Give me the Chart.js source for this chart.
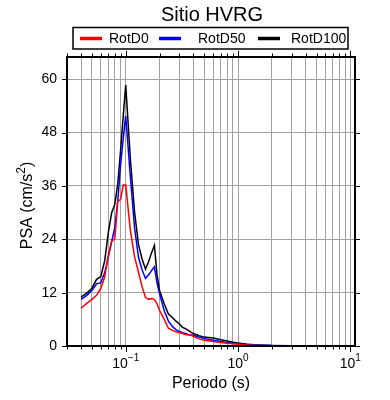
<!DOCTYPE html>
<html>
<head>
<meta charset="utf-8">
<script src="https://cdn.jsdelivr.net/npm/chart.js@4"></script>
<style>
  html, body { margin: 0; padding: 0; background: #fff; }
  #wrap { width: 390px; height: 400px; }
</style>
</head>
<body>
<div id="wrap"><canvas id="psa-chart" width="390" height="400"></canvas></div>
<script>
const chartTitle = 'Sitio HVRG';
const seriesNames = ['RotD0', 'RotD50', 'RotD100'];
const seriesColors = ['#ff0000', '#0000ff', '#000000'];

// periods (s)
const periods = [0.04, 0.045, 0.05, 0.055, 0.06, 0.065, 0.07, 0.075, 0.08, 0.085,
  0.09, 0.095, 0.1, 0.11, 0.12, 0.13, 0.14, 0.15, 0.16, 0.17,
  0.18, 0.19, 0.2, 0.22, 0.24, 0.26, 0.28, 0.3, 0.32, 0.34,
  0.36, 0.38, 0.4, 0.45, 0.5, 0.6, 0.7, 0.8, 0.9, 1.0,
  1.2, 1.5, 2, 3, 4, 5, 7.5, 10, 11];

// PSA (cm/s^2)
const rotD0 = [8.5, 9.6, 10.5, 11.4, 13.0, 15.5, 20.5, 23.6, 24.2, 32.5,
  33.0, 36.2, 36.2, 26.0, 20.0, 16.6, 13.3, 10.9, 10.5, 10.7,
  10.5, 9.5, 8.0, 6.0, 4.0, 3.5, 3.2, 3.0, 2.8, 2.6,
  2.5, 2.4, 2.2, 1.6, 1.3, 1.0, 0.8, 0.6, 0.5, 0.4,
  0.2, 0.1, 0.05, 0.03, 0.02, 0.02, 0.01, 0.01, 0.01];
const rotD50 = [10.5, 11.4, 12.5, 14.0, 14.2, 16.5, 20.0, 23.5, 26.7, 32.7,
  40.8, 46.7, 51.8, 38.0, 26.5, 19.9, 17.1, 15.2, 16.0, 17.0,
  17.8, 14.2, 11.8, 8.0, 5.6, 4.4, 3.7, 3.3, 3.0, 2.8,
  2.6, 2.5, 2.4, 2.0, 1.7, 1.3, 1.0, 0.8, 0.6, 0.5,
  0.35, 0.2, 0.1, 0.05, 0.03, 0.02, 0.01, 0.01, 0.01];
const rotD100 = [11.0, 11.9, 13.0, 15.0, 15.6, 19.2, 25.5, 30.0, 31.9, 36.5,
  44.0, 51.7, 58.7, 42.0, 30.0, 22.8, 19.5, 17.3, 19.0, 21.0,
  22.6, 16.0, 12.5, 9.5, 7.2, 6.4, 5.6, 5.0, 4.2, 3.9,
  3.5, 3.1, 2.8, 2.3, 2.0, 1.8, 1.4, 1.1, 0.85, 0.7,
  0.4, 0.25, 0.12, 0.06, 0.04, 0.03, 0.02, 0.01, 0.01];

const xMin = 0.03, xMax = 11;
const majorTicks = [0.1, 1, 10];
const majorExponents = ['\u22121', '0', '1'];
const yTicks = [0, 12, 24, 36, 48, 60];

const FONT = '"Liberation Sans", Arial, sans-serif';

// minor log positions 1..9 x 10^n inside the range
const xTicks = [];
for (let e = -2; e <= 1; e++) {
    for (let m = 1; m <= 9; m++) {
        const v = +(m * Math.pow(10, e)).toPrecision(3);
        if (v >= xMin && v <= xMax) xTicks.push(v);
    }
}

const series = [rotD0, rotD50, rotD100];

// text with a raised exponent, centred on x
function drawPower(ctx, base, exp, x, y, size, after) {
    ctx.font = size + 'px ' + FONT;
    const wb = ctx.measureText(base).width;
    const wa = after ? ctx.measureText(after).width : 0;
    ctx.font = Math.round(size * 0.72) + 'px ' + FONT;
    const we = ctx.measureText(exp).width;
    let cx = x - (wb + we + wa) / 2;
    ctx.textAlign = 'left';
    ctx.textBaseline = 'middle';
    ctx.font = size + 'px ' + FONT;
    ctx.fillText(base, cx, y);
    ctx.font = Math.round(size * 0.72) + 'px ' + FONT;
    ctx.fillText(exp, cx + wb, y - size * 0.38);
    if (after) {
        ctx.font = size + 'px ' + FONT;
        ctx.fillText(after, cx + wb + we, y);
    }
}

// frame, outside tick marks, labels, title and boxed legend
const decorPlugin = {
    id: 'decor',
    afterDraw(chart) {
        const ctx = chart.ctx;
        const a = chart.chartArea;
        const xs = chart.scales.x, ys = chart.scales.y;
        ctx.save();
        ctx.strokeStyle = '#000';
        ctx.lineWidth = 1;
        xTicks.forEach(v => {
            const px = Math.round(xs.getPixelForValue(v)) + 0.5;
            const len = majorTicks.includes(v) ? 6 : 3.5;
            ctx.beginPath();
            ctx.moveTo(px, a.bottom); ctx.lineTo(px, a.bottom + len);
            ctx.moveTo(px, a.top); ctx.lineTo(px, a.top - len);
            ctx.stroke();
        });
        yTicks.forEach(v => {
            const py = Math.round(ys.getPixelForValue(v)) + 0.5;
            ctx.beginPath();
            ctx.moveTo(a.left, py); ctx.lineTo(a.left - 5, py);
            ctx.moveTo(a.right, py); ctx.lineTo(a.right + 5, py);
            ctx.stroke();
        });
        ctx.lineWidth = 2;
        ctx.strokeRect(a.left, a.top, a.right - a.left, a.bottom - a.top);

        ctx.fillStyle = '#000';
        // x tick labels 10^n
        majorTicks.forEach((v, i) => {
            drawPower(ctx, '10', majorExponents[i], xs.getPixelForValue(v), 364, 14);
        });

        // y axis title
        ctx.save();
        ctx.translate(28, (a.top + a.bottom) / 2 + 4);
        ctx.rotate(-Math.PI / 2);
        drawPower(ctx, 'PSA (cm/s', '2', 0, 0, 16, ')');
        ctx.restore();

        // title
        ctx.font = '20px ' + FONT;
        ctx.textAlign = 'center';
        ctx.textBaseline = 'middle';
        ctx.fillText(chartTitle, 212, 15);

        // legend box
        ctx.lineWidth = 1.5;
        ctx.strokeRect(73, 27.5, 275, 21.5);
        const lineX = [80, 159, 258];
        const textX = [109, 198, 291];
        ctx.font = '14px ' + FONT;
        ctx.textAlign = 'left';
        seriesNames.forEach((name, i) => {
            ctx.strokeStyle = seriesColors[i];
            ctx.lineWidth = 3.5;
            ctx.beginPath();
            ctx.moveTo(lineX[i], 38.5); ctx.lineTo(lineX[i] + 22, 38.5);
            ctx.stroke();
            ctx.fillText(name, textX[i], 39);
        });
        ctx.restore();
    }
};

new Chart(document.getElementById('psa-chart'), {
    type: 'line',
    data: {
        datasets: seriesNames.map((name, i) => ({
            label: name,
            data: periods.map((p, j) => ({ x: p, y: series[i][j] })),
            borderColor: seriesColors[i],
            borderWidth: 1.5,
            pointRadius: 0,
            tension: 0,
            fill: false
        }))
    },
    options: {
        responsive: false,
        animation: false,
        devicePixelRatio: 1,
        layout: { padding: { top: 57, right: 35, left: 0, bottom: 0 } },
        plugins: {
            legend: { display: false },
            title: { display: false },
            tooltip: { enabled: false }
        },
        scales: {
            x: {
                type: 'logarithmic',
                min: xMin,
                max: xMax,
                afterBuildTicks: s => { s.ticks = xTicks.map(v => ({ value: v })); },
                afterFit: s => { s.height = 54; },
                border: { display: false },
                grid: { color: '#a0a0a0', lineWidth: 1, drawTicks: false },
                ticks: {
                    autoSkip: false,
                    maxRotation: 0,
                    padding: 9,
                    font: { family: FONT, size: 14 },
                    callback: () => ''
                },
                title: {
                    display: true,
                    text: 'Periodo (s)',
                    color: '#000',
                    font: { family: FONT, size: 16 },
                    padding: { top: 0, bottom: 7 }
                }
            },
            y: {
                min: 0,
                max: 65,
                afterBuildTicks: s => { s.ticks = yTicks.map(v => ({ value: v })); },
                afterFit: s => { s.width = 67; },
                border: { display: false },
                grid: { color: '#a0a0a0', lineWidth: 1, drawTicks: false },
                ticks: {
                    padding: 10,
                    color: '#000',
                    font: { family: FONT, size: 14 }
                }
            }
        }
    },
    plugins: [decorPlugin]
});
</script>
</body>
</html>
